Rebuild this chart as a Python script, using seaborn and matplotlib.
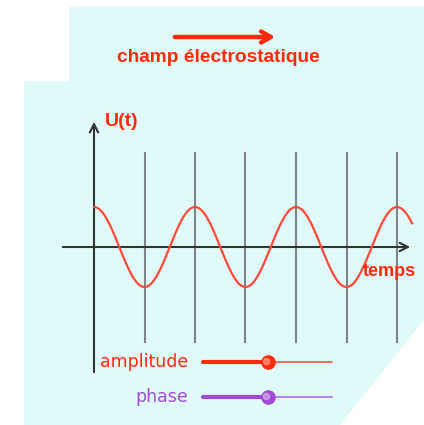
import numpy as np
import pandas as pd
import matplotlib
matplotlib.use("Agg")
import matplotlib.pyplot as plt
from matplotlib.patches import Polygon
import seaborn as sns

# Signal shown in the applet: U(t) = amplitude * cos(pi * t + phase)
amplitude = 1.0
phase = 0.0
t_end = 6.3
grid_times = [1, 2, 3, 4, 5, 6]

# Slider positions (fraction of the track)
slider_labels = ["amplitude", "phase"]
slider_values = [0.5, 0.5]
slider_colors = ["#ff2a0a", "#a24ad6"]

sns.set_style("white")
plt.rcParams['font.family'] = ['Liberation Sans', 'DejaVu Sans']

red = "#ff2a0a"
bg = "#e0fafa"
grid_col = "#7f8686"
axis_col = "#333333"

fig = plt.figure(figsize=(4.24, 4.25), dpi=100)

# background layer in pixel coordinates
bga = fig.add_axes([0, 0, 1, 1])
bga.set_xlim(0, 424)
bga.set_ylim(425, 0)
bga.axis("off")
shape = [(69, 7), (424, 7), (424, 320), (340, 425), (24, 425), (24, 81), (69, 81)]
bga.add_patch(Polygon(shape, closed=True, facecolor=bg, edgecolor="none"))

# top arrow + title
bga.annotate("", xy=(278, 37), xytext=(172, 37),
             arrowprops=dict(arrowstyle="->, head_length=0.7, head_width=0.4", color=red, lw=3.2))
bga.text(218, 57, "champ électrostatique", color=red, fontsize=13.8, fontweight="bold",
         ha="center", va="center")

# chart axes: origin at pixel (94, 247), 50.5 px per time unit, 40 px per volt
x0, y0, sx, sy = 94, 247, 50.5, 40
left, right, top, bottom = 60, 416, 116, 376
ax = fig.add_axes([left / 424, (425 - bottom) / 425, (right - left) / 424, (bottom - top) / 425])
ax.set_xlim((left - x0) / sx, (right - x0) / sx)
ax.set_ylim((y0 - bottom) / sy, (y0 - top) / sy)
ax.axis("off")
ax.patch.set_alpha(0)

ax.vlines(grid_times, (y0 - 343) / sy, (y0 - 152) / sy, color=grid_col, lw=1.5, zorder=1)

t = np.linspace(0, t_end, 400)
df = pd.DataFrame({"t": t, "U": amplitude * np.cos(np.pi * t + phase)})
sns.lineplot(data=df, x="t", y="U", ax=ax, color="#ff4a3a", lw=1.6, zorder=3)

ax.annotate("", xy=((413 - x0) / sx, 0), xytext=((left - x0) / sx, 0),
            arrowprops=dict(arrowstyle="->, head_length=0.6, head_width=0.3", color=axis_col, lw=1.5), zorder=2)
ax.annotate("", xy=(0, (y0 - 119) / sy), xytext=(0, (y0 - 375) / sy),
            arrowprops=dict(arrowstyle="->, head_length=0.6, head_width=0.3", color=axis_col, lw=1.5), zorder=2)

bga.text(105, 121, "U(t)", color=red, fontsize=14, fontweight="bold", ha="left", va="center")
fig.text(389 / 424, 1 - 272 / 425, "temps", color=red, fontsize=13, fontweight="bold",
         ha="center", va="center", zorder=5)

# sliders
track_x0, track_x1 = 203, 332
for i, (lab, val, col) in enumerate(zip(slider_labels, slider_values, slider_colors)):
    yy = 362 + 35 * i
    knob = track_x0 + val * (track_x1 - track_x0)
    bga.text(188, yy, lab, color=col, fontsize=12.5, family="DejaVu Sans", ha="right", va="center")
    bga.plot([track_x0, knob], [yy, yy], color=col, lw=3, solid_capstyle="round")
    bga.plot([knob, track_x1], [yy, yy], color=col, lw=1.2, alpha=0.8)
    bga.scatter([knob], [yy], s=90, color=col, zorder=4)
    bga.scatter([knob - 1.5], [yy - 1.5], s=20, color="white", alpha=0.35, zorder=5)

fig.savefig("out.png", dpi=100)
